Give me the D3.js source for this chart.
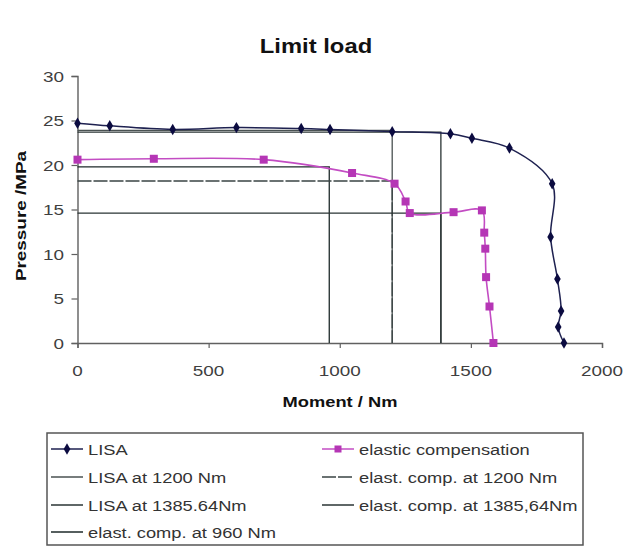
<!DOCTYPE html>
<html>
<head>
<meta charset="utf-8">
<script src="https://cdn.jsdelivr.net/npm/d3@7/dist/d3.min.js"></script>
<style>
  html, body { margin: 0; padding: 0; background: #fff; }
  svg { display: block; }
  text { font-family: "Liberation Sans", Arial, sans-serif; }
</style>
</head>
<body>
<svg id="chart" width="631" height="549"></svg>
<script>
// Limit load curves: moment (Nm) vs pressure (MPa)
const lisaMoment   = [0, 123, 363, 606, 853, 963, 1200, 1422, 1504, 1647, 1810, 1804, 1830, 1844, 1833, 1855];
const lisaPressure = [24.7, 24.4, 24.0, 24.2, 24.1, 24.0, 23.75, 23.5, 23.0, 21.9, 17.9, 11.9, 7.2, 3.6, 1.8, 0];

const elasticMoment   = [0, 291, 710, 1047, 1209, 1251, 1267, 1434, 1542, 1551, 1555, 1558, 1571, 1586];
const elasticPressure = [20.6, 20.7, 20.6, 19.1, 17.9, 15.9, 14.6, 14.7, 14.9, 12.4, 10.6, 7.4, 4.1, 0];

const refNames    = ["LISA at 1200 Nm", "LISA at 1385.64Nm", "elast. comp. at 960 Nm", "elast. comp. at 1200 Nm", "elast. comp. at 1385,64Nm"];
const refMoment   = [1200, 1385.64, 960, 1200, 1385.64];
const refPressure = [23.9, 23.7, 19.8, 18.2, 14.6];

const xTicks = [0, 500, 1000, 1500, 2000];
const yTicks = [0, 5, 10, 15, 20, 25, 30];

const svg = d3.select("#chart");
const SX = 1.22; // horizontal stretch of the lettering

const x = d3.scaleLinear().domain([0, 2000]).range([77.5, 602]);
const y = d3.scaleLinear().domain([0, 30]).range([343, 76]);

function stretchedText(sel, px, py, str, opts = {}) {
  const rot = opts.rotate ? ` rotate(${opts.rotate})` : "";
  return sel.append("text")
    .attr("transform", `translate(${px},${py})${rot} scale(${SX},1)`)
    .attr("text-anchor", opts.anchor || "start")
    .attr("font-size", opts.size || 15)
    .attr("font-weight", opts.weight || "normal")
    .attr("fill", opts.fill || "#333")
    .text(str);
}

// Title
stretchedText(svg, 316, 53, "Limit load", { anchor: "middle", size: 19.5, weight: "bold", fill: "#111" });

// Axes
const axisColor = "#606060";
const xAxis = svg.append("g").attr("transform", `translate(0,${y(0)})`)
  .call(d3.axisBottom(x).tickValues(xTicks).tickSize(5).tickFormat(""));
const yAxis = svg.append("g").attr("transform", `translate(${x(0)},0)`)
  .call(d3.axisLeft(y).tickValues(yTicks).tickSize(6).tickFormat(""));
[xAxis, yAxis].forEach(g => {
  g.selectAll("path").attr("stroke", axisColor).attr("stroke-width", 1.4);
  g.selectAll("line").attr("stroke", axisColor).attr("stroke-width", 1.2);
});

xTicks.forEach(v => stretchedText(svg, x(v), 376, String(v), { anchor: "middle", size: 15.5, fill: "#3f3f3f" }));
yTicks.forEach(v => stretchedText(svg, 64, y(v) + 5.5, String(v), { anchor: "end", size: 15.5, fill: "#3f3f3f" }));

stretchedText(svg, 340, 407, "Moment / Nm", { anchor: "middle", size: 15, weight: "bold", fill: "#111" });
stretchedText(svg, 26, 216, "Pressure /MPa", { anchor: "middle", size: 15.5, weight: "bold", fill: "#111", rotate: -90 });

// Reference lines: horizontal to the limit pressure, then down to the axis
const refStyles = [
  { stroke: "#4a5252", dash: null },
  { stroke: "#2a3434", dash: null },
  { stroke: "#1e2a2a", dash: null },
  { stroke: "#3a4444", dash: "14,2" },
  { stroke: "#2a3434", dash: null }
];
const refLine = d3.line().x(d => x(d[0])).y(d => y(d[1]));
refMoment.forEach((m, i) => {
  const pts = [[0, refPressure[i]], [m, refPressure[i]], [m, 0]];
  svg.append("path")
    .attr("d", refLine(pts))
    .attr("fill", "none")
    .attr("stroke", refStyles[i].stroke)
    .attr("stroke-width", 1.3)
    .attr("stroke-dasharray", refStyles[i].dash);
});

// Series curves
const smooth = d3.line().x(d => x(d[0])).y(d => y(d[1])).curve(d3.curveCatmullRom.alpha(0.5));
const lisaPts = lisaMoment.map((m, i) => [m, lisaPressure[i]]);
const elasticPts = elasticMoment.map((m, i) => [m, elasticPressure[i]]);

const lisaColor = "#1e2150";
const lisaMarker = "#0b0b40";
const elasticColor = "#c34cc3";
const elasticMarker = "#b536b5";

svg.append("path").attr("d", smooth(elasticPts))
  .attr("fill", "none").attr("stroke", elasticColor).attr("stroke-width", 1.6);
svg.append("path").attr("d", smooth(lisaPts))
  .attr("fill", "none").attr("stroke", lisaColor).attr("stroke-width", 1.5);

const diamond = d3.symbol().type(d3.symbolDiamond).size(38);
svg.append("g").selectAll("path").data(lisaPts).join("path")
  .attr("d", diamond)
  .attr("transform", d => `translate(${x(d[0])},${y(d[1])})`)
  .attr("fill", lisaMarker);

const sq = 8;
svg.append("g").selectAll("rect").data(elasticPts).join("rect")
  .attr("x", d => x(d[0]) - sq / 2).attr("y", d => y(d[1]) - sq / 2)
  .attr("width", sq).attr("height", sq)
  .attr("fill", elasticMarker);

// Legend
const legend = svg.append("g");
legend.append("rect")
  .attr("x", 47).attr("y", 433).attr("width", 536).attr("height", 112)
  .attr("fill", "#fff").attr("stroke", "#555").attr("stroke-width", 1.5);

const rowY = [449, 477, 505, 532];
const legendItems = [
  { name: "LISA", col: 0, row: 0, stroke: lisaColor, marker: "diamond" },
  { name: "elastic compensation", col: 1, row: 0, stroke: elasticColor, marker: "square" },
  { name: refNames[0], col: 0, row: 1, stroke: refStyles[0].stroke, dash: refStyles[0].dash },
  { name: refNames[3], col: 1, row: 1, stroke: refStyles[3].stroke, dash: refStyles[3].dash },
  { name: refNames[1], col: 0, row: 2, stroke: refStyles[1].stroke, dash: refStyles[1].dash },
  { name: refNames[4], col: 1, row: 2, stroke: refStyles[4].stroke, dash: refStyles[4].dash },
  { name: refNames[2], col: 0, row: 3, stroke: refStyles[2].stroke, dash: refStyles[2].dash }
];
const colX = [51, 322];
legendItems.forEach(it => {
  const x0 = colX[it.col], yy = rowY[it.row];
  legend.append("line")
    .attr("x1", x0).attr("x2", x0 + 32).attr("y1", yy).attr("y2", yy)
    .attr("stroke", it.stroke).attr("stroke-width", 1.5)
    .attr("stroke-dasharray", it.dash || null);
  if (it.marker === "diamond") {
    legend.append("path").attr("d", diamond)
      .attr("transform", `translate(${x0 + 16},${yy})`).attr("fill", lisaMarker);
  } else if (it.marker === "square") {
    legend.append("rect").attr("x", x0 + 16 - 3.5).attr("y", yy - 3.5)
      .attr("width", 7).attr("height", 7).attr("fill", elasticMarker);
  }
  stretchedText(legend, x0 + 37, yy + 5.5, it.name, { size: 15, fill: "#333" });
});
</script>
</body>
</html>
